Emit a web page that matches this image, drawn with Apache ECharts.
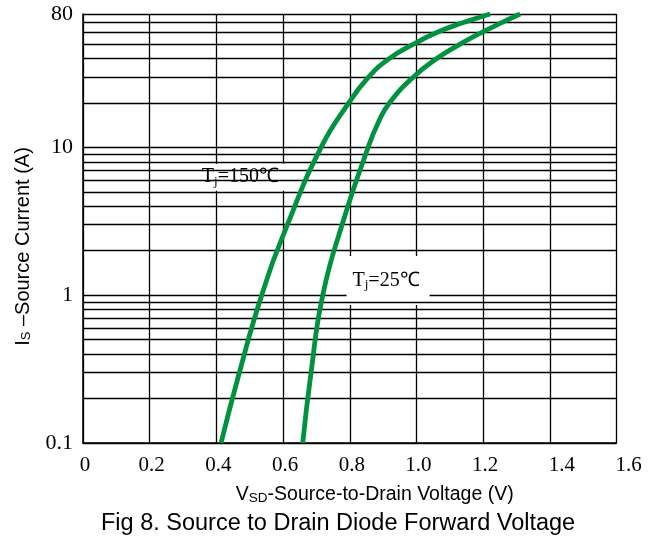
<!DOCTYPE html>
<html>
<head>
<meta charset="utf-8">
<script src="https://cdn.jsdelivr.net/npm/echarts@6/dist/echarts.min.js"></script>
<style>html,body{margin:0;padding:0;background:#fff}#c{width:658px;height:543px}</style>
</head>
<body>
<div id="c"></div>
<script>
// ---- data ----
const current150 = [0.1,0.3,1,3,10,20,30,40,50,60,70,80];
const volt150    = [0.414,0.469,0.536,0.613,0.714,0.797,0.857,0.919,0.991,1.061,1.141,1.221];
const current25  = [0.1,0.3,1,3,10,15,20,30,40,50,60,70,80];
const volt25     = [0.659,0.684,0.719,0.777,0.855,0.887,0.919,0.991,1.061,1.131,1.196,1.256,1.311];
const minorGridY = [0.2,0.3,0.4,0.5,0.6,0.7,0.8,0.9,2,3,4,5,6,7,8,9,20,30,40,50,60,70];
const xTickLabels = ['0','0.2','0.4','0.6','0.8','1.0','1.2','1.4','1.6'];
const curveLabelText = ['150℃','25℃'];
const curveLabelV = [0.478, 0.915];
const curveLabelI = [6.29, 1.26];

const serif = '"Liberation Serif","Times New Roman",serif';
const sans = '"Liberation Sans",Arial,sans-serif';
const green = '#00923f';
const labelPads = [[3,10,3,6],[14,10,14,6]];

const chart = echarts.init(document.getElementById('c'), null, {renderer:'canvas'});
chart.setOption({
  animation:false,
  backgroundColor:'#fff',
  title:{
    text:'Fig 8. Source to Drain Diode Forward Voltage',
    left:96, top:507,
    textStyle:{fontFamily:sans, fontSize:23.5, fontWeight:'normal', color:'#000'}
  },
  grid:{left:83, top:14, right:41.5, bottom:100, containLabel:false},
  xAxis:{
    type:'value', min:0, max:1.6, interval:0.2,
    axisLine:{show:true, onZero:false, lineStyle:{color:'#000', width:1.5}},
    axisTick:{show:false},
    splitLine:{show:true, lineStyle:{color:'#000', width:1.3}},
    axisLabel:{
      margin:12, color:'#000', fontFamily:serif, fontSize:21,
      formatter:function(v){
        const idx = Math.round(v/0.2);
        const t = xTickLabels[idx];
        if (idx >= 7) return '{r|' + t + '}';
        return '{n|' + t + '}';
      },
      rich:{
        n:{fontFamily:serif, fontSize:21, color:'#000', padding:[0,0,0,4]},
        r:{fontFamily:serif, fontSize:21, color:'#000', padding:[0,0,0,24]}
      }
    },
    name:'{a|V}{s|SD}{a|-Source-to-Drain Voltage (V)}',
    nameLocation:'middle', nameGap:42,
    nameTextStyle:{
      padding:[0,0,0,50],
      rich:{
        a:{fontFamily:sans, fontSize:19.5, color:'#000'},
        s:{fontFamily:sans, fontSize:13.5, color:'#000', padding:[6,0,0,0]}
      }
    }
  },
  yAxis:{
    type:'log', logBase:10, min:0.1, max:80,
    axisLine:{show:true, onZero:false, lineStyle:{color:'#000', width:1.5}},
    axisTick:{show:false},
    splitLine:{show:true, lineStyle:{color:'#000', width:1.3}},
    axisLabel:{
      margin:10, color:'#000', fontFamily:serif, fontSize:22,
      formatter:function(v){ return String(+(+v).toPrecision(3)); }
    },
    name:'{a|I}{s|S}{a| –Source Current (A)}',
    nameLocation:'middle', nameGap:50, nameRotate:90,
    nameTextStyle:{
      padding:[0,36,0,0],
      rich:{
        a:{fontFamily:sans, fontSize:20, color:'#000'},
        s:{fontFamily:sans, fontSize:13, color:'#000', padding:[7,0,0,0]}
      }
    }
  },
  series:[
    {
      type:'line', name:'grid', data:[], z:1, silent:true,
      markLine:{
        silent:true, symbol:['none','none'], animation:false,
        label:{show:false},
        lineStyle:{color:'#000', width:1.3, type:'solid'},
        data: minorGridY.map(v => ({yAxis:v}))
      }
    },
    {
      type:'scatter', name:'labels', z:3, silent:true, symbolSize:0,
      itemStyle:{opacity:1},
      data: curveLabelText.map((t,k) => ({
        value:[curveLabelV[k], curveLabelI[k]], text:t,
        label:{padding:labelPads[k]}
      })),
      label:{
        show:true, position:'inside', opacity:1,
        color:'#000', textBorderWidth:0, textBorderColor:'transparent',
        backgroundColor:'#fff',
        formatter:function(p){ return '{t|T}{s|j}{t|=' + p.data.text + '}'; },
        rich:{
          t:{fontFamily:serif, fontSize:20, color:'#000', textBorderWidth:0},
          s:{fontFamily:serif, fontSize:13, color:'#000', textBorderWidth:0, padding:[8,0,0,0]}
        }
      }
    },
    {
      type:'line', name:'Tj=150', z:5, smooth:0.5, symbol:'none',
      lineStyle:{color:green, width:4.8},
      data: current150.map((c,i) => [volt150[i], c])
    },
    {
      type:'line', name:'Tj=25', z:5, smooth:0.5, symbol:'none',
      lineStyle:{color:green, width:4.8},
      data: current25.map((c,i) => [volt25[i], c])
    }
  ]
});
</script>
</body>
</html>
